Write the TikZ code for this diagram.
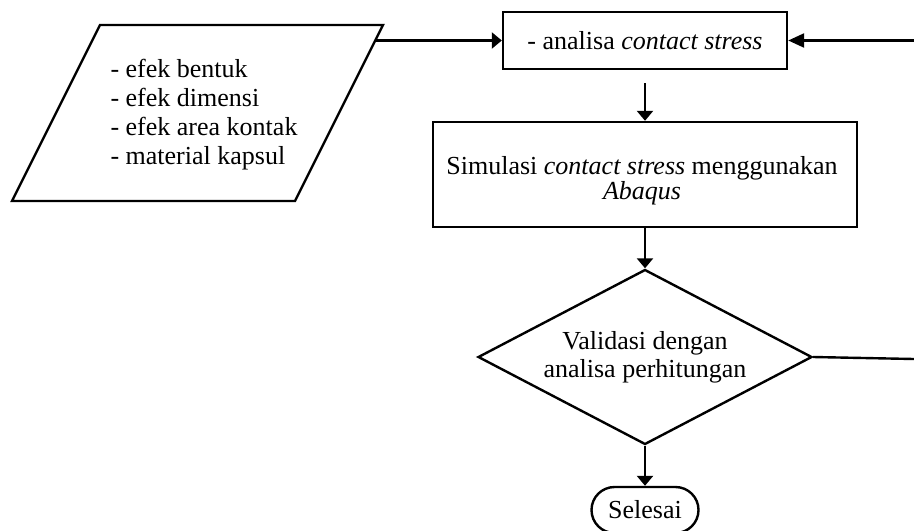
\documentclass[tikz,border=0pt]{standalone}
\usepackage{fontspec}
\setmainfont{Liberation Serif}
\usetikzlibrary{shapes.geometric,arrows.meta}
\begin{document}
\begin{tikzpicture}[x=0.5pt,y=-0.5pt,
  line width=1.2pt,
  txt/.style={font=\fontsize{13}{14.5}\selectfont},
  box/.style={draw, rectangle, inner sep=0pt, align=center, txt},
  arr/.style={-{Triangle[length=5pt,width=8pt]}},
  arrlong/.style={-{Triangle[length=8pt,width=7pt]}},
]
\useasboundingbox (0,0) rectangle (914,530);
% input parallelogram
\draw[line join=miter] (12,201) -- (100,25) -- (383,25) -- (295,201) -- cycle;
\node[txt, align=left, inner sep=0pt] (inp) at (204,115)
  {- efek bentuk\\- efek dimensi\\- efek area kontak\\- material kapsul};
\coordinate (inpout) at (375,40.5);
% boxes
\node[box, minimum width=142pt, minimum height=28.5pt] (b1) at (645,40.5)
  {- analisa \textit{contact stress}};
\node[box, minimum width=212pt, minimum height=52.5pt] (b2) at (645,174.5) {};
\node[inner sep=0pt, align=center, font=\fontsize{13}{12.5}\selectfont] (b2t) at (642,181)
  {Simulasi \textit{contact stress} menggunakan\\\textit{Abaqus}};
\node[draw, diamond, aspect=1.91, minimum width=167pt, minimum height=87.5pt,
  inner sep=0pt, align=center, txt, font=\fontsize{13}{14}\selectfont] (d) at (645,357)
  {Validasi dengan\\analisa perhitungan};
\node[draw, rounded corners=11.5pt, minimum width=53.5pt, minimum height=23pt,
  inner sep=0pt, txt] (end) at (645,510) {Selesai};
% right side free ends
\coordinate (r1) at (914,40.5);
\coordinate (r2) at (914,359);
% connectors
\draw[arr] (inpout) -- (b1.west);
\draw[arrlong] (r1) -- (b1.east);
\draw[arr, shorten <=6.5pt] (b1.south) -- (b2.north);
\draw[arr] (b2.south) -- (d.north);
\draw[arr] (d.south) -- (end.north);
\draw (d.east) -- (r2);
\end{tikzpicture}
\end{document}
